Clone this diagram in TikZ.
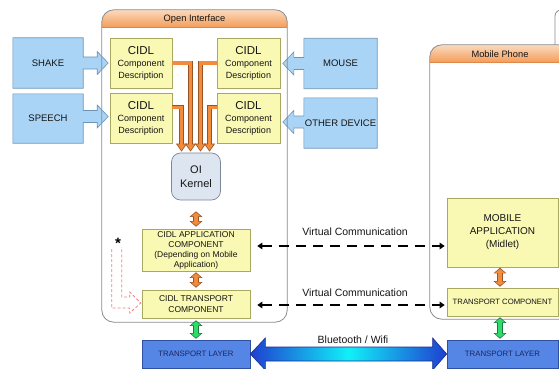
\documentclass[tikz,border=0pt]{standalone}
\usepackage{fontspec}
\setmainfont{Liberation Sans}
\usetikzlibrary{arrows.meta,calc,backgrounds}
\definecolor{bluebox}{HTML}{A9D4F5}
\definecolor{blueborder}{HTML}{6E93B5}
\definecolor{yelbox}{HTML}{F9F9B4}
\definecolor{yelborder}{HTML}{A8A860}
\definecolor{kernfill}{HTML}{DCE5F0}
\definecolor{kernborder}{HTML}{7A8898}
\definecolor{orfill}{HTML}{F28C3C}
\definecolor{orborder}{HTML}{9A5424}
\definecolor{grfill}{HTML}{2EDC6A}
\definecolor{grborder}{HTML}{1E7A40}
\definecolor{tlfill}{HTML}{5585E5}
\definecolor{tlborder}{HTML}{2F4FA0}
\definecolor{tltext}{HTML}{1A2860}
\definecolor{framegray}{HTML}{8A8A8A}
\definecolor{hdrtop}{HTML}{FBDABF}
\definecolor{hdrbot}{HTML}{F39A55}
\definecolor{hdrline}{HTML}{E0884A}
\definecolor{btdark}{HTML}{1F3FD0}
\definecolor{btcyan}{HTML}{10F0F8}
\definecolor{btborder}{HTML}{1A2F90}
\definecolor{pinkd}{HTML}{EE8080}
\definecolor{txt}{HTML}{151515}
\newcommand\cidlcomp{{\fontsize{11.5}{12}\selectfont CIDL}\\Component\\Description}
\begin{document}
\begin{tikzpicture}[x=1pt,y=-1pt,
  frame/.style={draw=none,inner sep=0pt},
  frameline/.style={draw=framegray,line width=0.8pt},
  hdrlabel/.style={font=\fontsize{9.3}{11}\selectfont,text=txt},
  bbox/.style={inner sep=0pt,align=center,text=txt,font=\fontsize{9.5}{11}\selectfont},
  bshape/.style={fill=bluebox,draw=blueborder,line width=0.6pt},
  ybox/.style={fill=yelbox,draw=yelborder,line width=0.6pt,inner sep=0pt,align=center,text=txt},
  cidl/.style={ybox,minimum width=62pt,minimum height=50pt,font=\fontsize{9}{12}\selectfont},
  kern/.style={fill=kernfill,draw=kernborder,line width=0.7pt,rounded corners=9pt,inner sep=0pt,align=center,text=txt,font=\fontsize{11}{14}\selectfont},
  tlbox/.style={fill=tlfill,draw=tlborder,line width=0.6pt,inner sep=0pt,text=tltext,font=\fontsize{7.8}{9}\selectfont},
  obase/.style={draw=orborder,line width=4.6pt,-{Triangle[length=8pt,width=10.5pt]},shorten >=1pt},
  otop/.style={draw=orfill,line width=3pt,-{Triangle[length=6pt,width=7.6pt]},shorten >=2.3pt},
  dbase/.style={line width=6.4pt,{Triangle[length=5.5pt,width=12.5pt]}-{Triangle[length=5.5pt,width=12.5pt]}},
  dtop/.style={line width=4.6pt,{Triangle[length=4pt,width=9.5pt]}-{Triangle[length=4pt,width=9.5pt]}},
  vc/.style={draw=black,line width=1.8pt,dash pattern=on 10pt off 7pt,{Triangle[length=5pt,width=6.5pt]}-{Triangle[length=5pt,width=6.5pt]}},
  vclabel/.style={font=\fontsize{10.5}{12}\selectfont,text=txt},
  pinkdash/.style={draw=pinkd,line width=0.8pt,dash pattern=on 3pt off 2pt}
]
\useasboundingbox (0,0) rectangle (559,369);
\clip (0,0) rectangle (559,369);

% partial frame at top right
\draw[frameline,rounded corners=6pt] (555,46) -- (555,10) -- (580,10);

% Open Interface frame
\node[frame,minimum width=185pt,minimum height=312pt] (oi) at (194.5,166) {};
\begin{scope}
  \clip[rounded corners=12pt] (oi.north west) rectangle (oi.south east);
  \shade[top color=hdrtop,bottom color=hdrbot] (oi.north west) rectangle ($(oi.north east)+(0,18)$);
\end{scope}
\draw[hdrline,line width=0.6pt] ($(oi.north west)+(0,18)$) -- ($(oi.north east)+(0,18)$);
\draw[frameline,rounded corners=12pt] (oi.north west) rectangle (oi.south east);
\node[hdrlabel] (oilbl) at ($(oi.north)+(0,9)$) {Open Interface};

% Mobile Phone frame
\node[frame,minimum width=140pt,minimum height=274pt] (mp) at (500,182) {};
\begin{scope}
  \clip[rounded corners=12pt] (mp.north west) rectangle (mp.south east);
  \shade[top color=hdrtop,bottom color=hdrbot] (mp.north west) rectangle ($(mp.north east)+(0,18)$);
\end{scope}
\draw[hdrline,line width=0.6pt] ($(mp.north west)+(0,18)$) -- ($(mp.north east)+(0,18)$);
\draw[frameline,rounded corners=12pt] (mp.north west) rectangle (mp.south east);
\node[hdrlabel] (mplbl) at ($(mp.north)+(0,9.5)$) {Mobile Phone};

% input devices
\node[bbox,minimum width=70pt,minimum height=50pt] (shake) at (48,63) {SHAKE};
\node[bbox,minimum width=70pt,minimum height=49pt] (speech) at (48,118.5) {SPEECH};
\node[bbox,minimum width=73pt,minimum height=50pt] (mouse) at (340.5,63.5) {MOUSE};
\node[bbox,minimum width=73pt,minimum height=50pt] (other) at (340.5,123) {OTHER DEVICE};
\begin{pgfonlayer}{background}
\path[bshape] (shake.north west) -- (shake.north east) -- ($(shake.east)+(0,-6)$) -- ($(shake.east)+(14,-6)$) -- ($(shake.east)+(14,-11.5)$) -- ($(shake.east)+(25,0)$) -- ($(shake.east)+(14,11.5)$) -- ($(shake.east)+(14,6)$) -- ($(shake.east)+(0,6)$) -- (shake.south east) -- (shake.south west) -- cycle;
\path[bshape] (speech.north west) -- (speech.north east) -- ($(speech.east)+(0,-8)$) -- ($(speech.east)+(14,-8)$) -- ($(speech.east)+(14,-13.5)$) -- ($(speech.east)+(25,-2)$) -- ($(speech.east)+(14,9.5)$) -- ($(speech.east)+(14,4)$) -- ($(speech.east)+(0,4)$) -- (speech.south east) -- (speech.south west) -- cycle;
\path[bshape] (mouse.north east) -- (mouse.north west) -- ($(mouse.west)+(0,-6)$) -- ($(mouse.west)+(-10,-6)$) -- ($(mouse.west)+(-10,-11.5)$) -- ($(mouse.west)+(-21,0)$) -- ($(mouse.west)+(-10,11.5)$) -- ($(mouse.west)+(-10,6)$) -- ($(mouse.west)+(0,6)$) -- (mouse.south west) -- (mouse.south east) -- cycle;
\path[bshape] (other.north east) -- (other.north west) -- ($(other.west)+(0,-7)$) -- ($(other.west)+(-10,-7)$) -- ($(other.west)+(-10,-12.5)$) -- ($(other.west)+(-21,-1)$) -- ($(other.west)+(-10,10.5)$) -- ($(other.west)+(-10,5)$) -- ($(other.west)+(0,5)$) -- (other.south west) -- (other.south east) -- cycle;
\end{pgfonlayer}

% CIDL component descriptions
\node[cidl] (c1) at (141,63) {\cidlcomp};
\node[cidl] (c2) at (141,118) {\cidlcomp};
\node[cidl,minimum width=63pt] (c3) at (248.5,63) {\cidlcomp};
\node[cidl,minimum width=63pt] (c4) at (248.5,118) {\cidlcomp};

% kernel
\node[kern,minimum width=49pt,minimum height=47pt] (kernel) at (196,176.5) {OI\\Kernel};

% orange connectors to kernel
\draw[obase] (c1.east) -| ($(kernel.north)+(-5.5,0)$);
\draw[obase] ($(c2.east)+(0,-11)$) -| ($(kernel.north)+(-14.5,0)$);
\draw[obase] (c3.west) -| ($(kernel.north)+(4.5,0)$);
\draw[obase] ($(c4.west)+(0,-11)$) -| ($(kernel.north)+(13.5,0)$);
\draw[otop] (c1.east) -| ($(kernel.north)+(-5.5,0)$);
\draw[otop] ($(c2.east)+(0,-11)$) -| ($(kernel.north)+(-14.5,0)$);
\draw[otop] (c3.west) -| ($(kernel.north)+(4.5,0)$);
\draw[otop] ($(c4.west)+(0,-11)$) -| ($(kernel.north)+(13.5,0)$);

% open interface stack
\node[ybox,minimum width=108pt,minimum height=42pt,font=\fontsize{8.5}{10}\selectfont] (app) at (196,250) {CIDL APPLICATION\\COMPONENT\\(Depending on Mobile\\Application)};
\node[ybox,minimum width=108pt,minimum height=28pt,font=\fontsize{8.5}{11}\selectfont] (ctr) at (196,304) {CIDL TRANSPORT\\COMPONENT};
\node[tlbox,minimum width=108pt,minimum height=28pt] (tl) at (196,354) {TRANSPORT LAYER};

% mobile phone stack
\node[ybox,minimum width=111pt,minimum height=69pt,font=\fontsize{10}{13}\selectfont] (mapp) at (502.5,232.5) {MOBILE\\APPLICATION\\(Midlet)};
\node[ybox,minimum width=111pt,minimum height=28pt,font=\fontsize{7.7}{9}\selectfont] (mtc) at (502.5,302) {TRANSPORT COMPONENT};
\node[tlbox,minimum width=111pt,minimum height=28pt] (tr) at (502.5,354) {TRANSPORT LAYER};

% vertical double arrows
\draw[dbase,draw=orborder,shorten <=11pt,shorten >=2pt] (kernel.south) -- (app.north);
\draw[dtop,draw=orfill,shorten <=12.1pt,shorten >=3.1pt] (kernel.south) -- (app.north);
\draw[dbase,draw=orborder,shorten <=1pt,shorten >=2pt] (app.south) -- (ctr.north);
\draw[dtop,draw=orfill,shorten <=2.1pt,shorten >=3.1pt] (app.south) -- (ctr.north);
\draw[dbase,draw=grborder,shorten <=2pt,shorten >=1pt] (ctr.south) -- (tl.north);
\draw[dtop,draw=grfill,shorten <=3.1pt,shorten >=2.1pt] (ctr.south) -- (tl.north);
\draw[dbase,draw=orborder,shorten <=0.5pt,shorten >=1pt] ($(mapp.south)+(-2.5,0)$) -- ($(mtc.north)+(-2.5,0)$);
\draw[dtop,draw=orfill,shorten <=1.6pt,shorten >=2.1pt] ($(mapp.south)+(-2.5,0)$) -- ($(mtc.north)+(-2.5,0)$);
\draw[dbase,draw=grborder,shorten <=1pt,shorten >=1pt] ($(mtc.south)+(-2.5,0)$) -- ($(tr.north)+(-2.5,0)$);
\draw[dtop,draw=grfill,shorten <=2.1pt,shorten >=2.1pt] ($(mtc.south)+(-2.5,0)$) -- ($(tr.north)+(-2.5,0)$);

% virtual communication
\draw[vc,shorten <=7pt,shorten >=2pt] ($(app.east)+(0,-4)$) -- ($(mapp.west)+(0,13.5)$);
\node[vclabel] (vc1) at (355,232) {Virtual Communication};
\draw[vc,shorten <=7pt,shorten >=2pt] ($(ctr.east)+(0,1)$) -- ($(mtc.west)+(0,3)$);
\node[vclabel] (vc2) at (355,293) {Virtual Communication};

% bluetooth / wifi
\shadedraw[left color=btdark,right color=btdark,middle color=btcyan,draw=btborder,line width=0.6pt]
  (tl.east) -- ($(tl.east)+(15,-16)$) -- ($(tl.east)+(15,-7)$) -- ($(tr.west)+(-14,-7)$) -- ($(tr.west)+(-14,-16)$) -- (tr.west) -- ($(tr.west)+(-14,16)$) -- ($(tr.west)+(-14,7)$) -- ($(tl.east)+(15,7)$) -- ($(tl.east)+(15,16)$) -- cycle;
\node[vclabel] (bt) at (353,340) {Bluetooth / Wifi};

% pink dashed hint arrow
\draw[pinkdash] ($(ctr.west)+(-30,-55)$) -- ($(ctr.west)+(-30,4)$) -- ($(ctr.west)+(-12,4)$) -- ($(ctr.west)+(-12,9)$) -- ($(ctr.west)+(-1,-1)$) -- ($(ctr.west)+(-12,-12)$) -- ($(ctr.west)+(-12,-7)$) -- ($(ctr.west)+(-20,-7)$) -- ($(ctr.west)+(-20,-57)$);
\node[font=\fontsize{15}{15}\selectfont\bfseries,text=black,inner sep=0pt] (star) at (118,243) {*};
\end{tikzpicture}
\end{document}
